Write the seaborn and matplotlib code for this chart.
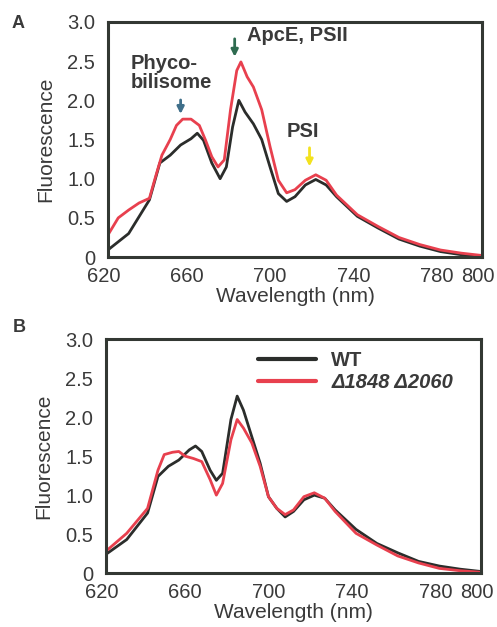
import numpy as np
import pandas as pd
import matplotlib
matplotlib.use("Agg")
import matplotlib.pyplot as plt
import matplotlib.transforms as mtransforms
import seaborn as sns

# Panel A spectra
wl_a_black = [620, 630, 640, 645, 650, 655, 660, 663, 666, 670, 674, 677, 680, 683, 686, 690,
              694, 698, 702, 706, 710, 715, 720, 725, 730, 740, 750, 760, 770, 780, 790, 800]
fl_a_black = [0.09, 0.30, 0.73, 1.20, 1.30, 1.43, 1.51, 1.58, 1.49, 1.20, 1.00, 1.15, 1.66, 2.00, 1.85, 1.70,
              1.50, 1.15, 0.81, 0.71, 0.77, 0.92, 0.99, 0.92, 0.77, 0.52, 0.37, 0.23, 0.14, 0.07, 0.03, 0.01]

wl_a_red = [620, 625, 630, 635, 640, 643, 646, 650, 653, 656, 660, 664, 667, 670, 673, 676, 679, 682, 684,
            687, 690, 694, 698, 702, 706, 710, 715, 720, 725, 730, 740, 750, 760, 770, 780, 790, 800]
fl_a_red = [0.28, 0.50, 0.60, 0.69, 0.75, 1.03, 1.30, 1.50, 1.68, 1.76, 1.76, 1.68, 1.49, 1.28, 1.15, 1.24, 1.88, 2.38, 2.49,
            2.30, 2.17, 1.88, 1.41, 0.98, 0.82, 0.86, 0.98, 1.05, 0.98, 0.79, 0.54, 0.39, 0.25, 0.16, 0.09, 0.05, 0.02]

# Panel B spectra
wl_b_wt = [620, 630, 640, 645, 650, 655, 660, 663, 666, 670, 673, 676, 680, 683, 686, 690,
           694, 698, 702, 706, 710, 715, 720, 725, 730, 740, 750, 760, 770, 780, 790, 800]
fl_b_wt = [0.24, 0.43, 0.77, 1.24, 1.37, 1.45, 1.58, 1.63, 1.56, 1.32, 1.19, 1.28, 1.97, 2.27, 2.09, 1.75,
           1.41, 0.98, 0.83, 0.72, 0.79, 0.94, 1.00, 0.96, 0.81, 0.56, 0.38, 0.26, 0.15, 0.09, 0.05, 0.02]

wl_b_mut = [620, 630, 640, 645, 648, 652, 655, 658, 662, 666, 670, 673, 676, 680, 683, 686, 690,
            694, 698, 702, 706, 710, 715, 720, 725, 730, 740, 750, 760, 770, 780, 790, 800]
fl_b_mut = [0.28, 0.51, 0.83, 1.32, 1.52, 1.55, 1.56, 1.50, 1.47, 1.43, 1.20, 1.00, 1.15, 1.71, 1.97, 1.86, 1.67,
            1.37, 0.98, 0.83, 0.75, 0.81, 0.98, 1.03, 0.96, 0.79, 0.51, 0.36, 0.22, 0.13, 0.06, 0.03, 0.01]

x_ticks = [620, 640, 660, 680, 700, 720, 740, 760, 780, 800]
x_labels = ["620", "", "660", "", "700", "", "740", "", "780", "800"]
y_ticks = [0, 0.5, 1.0, 1.5, 2.0, 2.5, 3.0]
y_labels = ["0", "0.5", "1.0", "1.5", "2.0", "2.5", "3.0"]

sns.set_style("white")
plt.rcParams['font.family'] = ['Liberation Sans', 'DejaVu Sans']

BLACK = "#2b2d2b"
RED = "#e8404e"
TXT = "#3a3a3a"
FS = 14.5

fig = plt.figure(figsize=(4.97, 6.27), dpi=100)
ax_a = fig.add_axes([0.217, 0.590, 0.753, 0.375])
ax_b = fig.add_axes([0.213, 0.086, 0.755, 0.373])

sns.lineplot(x=wl_a_black, y=fl_a_black, ax=ax_a, color=BLACK, lw=2)
sns.lineplot(x=wl_a_red, y=fl_a_red, ax=ax_a, color=RED, lw=2)

sns.lineplot(x=wl_b_wt, y=fl_b_wt, ax=ax_b, color=BLACK, lw=2, label="WT")
sns.lineplot(x=wl_b_mut, y=fl_b_mut, ax=ax_b, color=RED, lw=2, label="Δ1848 Δ2060")

shift = mtransforms.ScaledTranslation(-4 / 100, 0, fig.dpi_scale_trans)
for ax in (ax_a, ax_b):
    ax.set_xlim(620, 800)
    ax.set_ylim(0, 3.0)
    ax.set_xticks(x_ticks)
    ax.set_xticklabels(x_labels)
    ax.set_yticks(y_ticks)
    ax.set_yticklabels(y_labels)
    ax.tick_params(direction="in", length=5, width=1.2, colors=TXT, labelsize=FS)
    ax.tick_params(axis="y", pad=9)
    ax.tick_params(axis="x", pad=7)
    for lbl in ax.get_xticklabels():
        lbl.set_transform(lbl.get_transform() + shift)
    for s in ax.spines.values():
        s.set_linewidth(2.2)
        s.set_color("#333833")
    ax.set_ylabel("Fluorescence", fontsize=15, color=TXT, labelpad=9)
    ax.set_xlabel("Wavelength (nm)", fontsize=15, color=TXT, labelpad=1)

# annotations, panel A
ax_a.text(631, 2.1, "Phyco-\nbilisome", fontsize=14.5, fontweight="bold", color=TXT,
          ha="left", va="bottom", linespacing=1.05)
ax_a.annotate("", xy=(655, 1.79), xytext=(655, 2.04),
              arrowprops=dict(arrowstyle="-|>", color="#3f6f8a", lw=2, mutation_scale=10))
ax_a.text(687, 2.83, "ApcE, PSII", fontsize=14.5, fontweight="bold", color=TXT, ha="left", va="center")
ax_a.annotate("", xy=(681, 2.52), xytext=(681, 2.82),
              arrowprops=dict(arrowstyle="-|>", color="#2e6b50", lw=2, mutation_scale=10))
ax_a.text(714, 1.6, "PSI", fontsize=14.5, fontweight="bold", color=TXT, ha="center", va="center")
ax_a.annotate("", xy=(717, 1.12), xytext=(717, 1.43),
              arrowprops=dict(arrowstyle="-|>", color="#f3e21e", lw=2, mutation_scale=10))

leg = ax_b.legend(loc="upper left", frameon=False, fontsize=FS, handlelength=2.9,
                  handletextpad=0.75, labelspacing=0.15, borderpad=0, borderaxespad=0,
                  bbox_to_anchor=(0.405, 0.95))
for t in leg.get_texts():
    t.set_fontweight("bold")
    t.set_color(TXT)
leg.get_texts()[1].set_fontstyle("italic")
for h in leg.get_lines():
    h.set_linewidth(3)

fig.text(0.024, 0.963, "A", fontsize=13, fontweight="bold", color=TXT, va="center")
fig.text(0.026, 0.477, "B", fontsize=13, fontweight="bold", color=TXT, va="center")

fig.savefig("out.png", dpi=100)
